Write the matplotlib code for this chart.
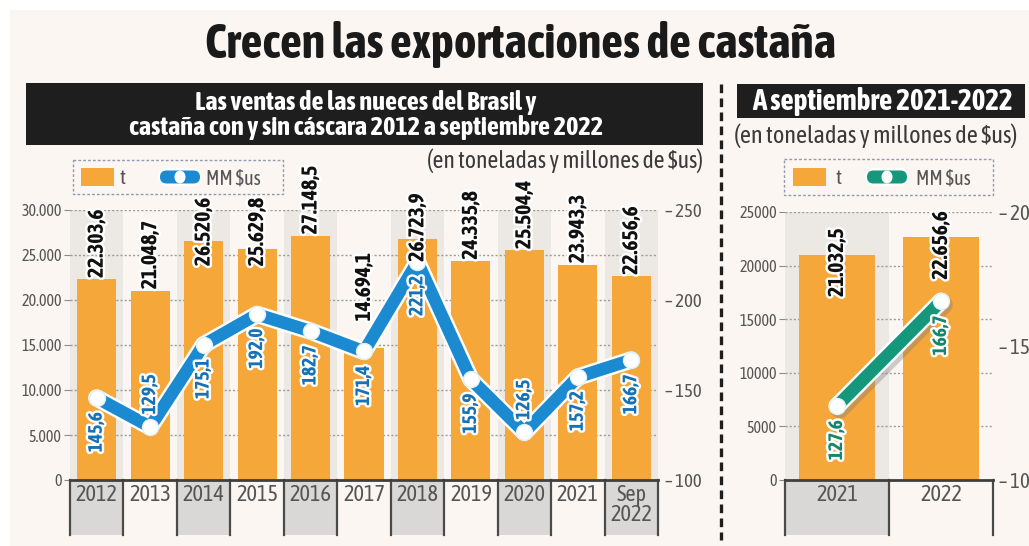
import matplotlib
matplotlib.use("Agg")
import matplotlib.pyplot as plt
import matplotlib.patheffects as pe
from matplotlib.patches import Rectangle, FancyBboxPatch, Ellipse
from matplotlib.lines import Line2D
from matplotlib.transforms import Affine2D

# ---------------- data ----------------
years = ["2012", "2013", "2014", "2015", "2016", "2017",
         "2018", "2019", "2020", "2021", "Sep\n2022"]
toneladas = [22303.6, 21048.7, 26520.6, 25629.8, 27148.5, 14694.1,
             26723.9, 24335.8, 25504.4, 23943.3, 22656.6]
millones_sus = [145.6, 129.5, 175.1, 192.0, 182.7, 171.4,
                221.2, 155.9, 126.5, 157.2, 166.7]

periodos = ["2021", "2022"]
toneladas_sep = [21032.5, 22656.6]
millones_sep = [127.6, 166.7]

ticks_t = [0, 5000, 10000, 15000, 20000, 25000, 30000]
ticks_mm = [100, 150, 200, 250]
ticks_t_sep = [0, 5000, 10000, 15000, 20000, 25000]
ticks_mm_sep = [100, 150, 200]

titulo = "Crecen las exportaciones de castaña"
cabecera_izq = "Las ventas de las nueces del Brasil y\ncastaña con y sin cáscara 2012 a septiembre 2022"
cabecera_der = "A septiembre 2021-2022"
unidades = r"(en toneladas y millones de \$us)"

# ---------------- style ----------------
W, H, DPI = 1029, 546, 100
plt.rcParams['font.family'] = ['Asap Condensed', 'DejaVu Sans']

BG = '#FBF6F1'
ORANGE = '#F6A73A'
BLUE = '#1B8AD0'
BLUE_TXT = '#1772B5'
GREEN = '#14977A'
GREEN_TXT = '#12876C'
STRIP = '#ECE8E4'
CELL = '#DAD8D6'
INK = '#4A4A4A'
GREY_TXT = '#555555'

fig = plt.figure(figsize=(W / DPI, H / DPI), dpi=DPI, facecolor='white')
# pixel coordinates measured from the top-left corner
PX = Affine2D().scale(1, -1).translate(0, H)


def px_axes(x0, y0, x1, y1):
    return fig.add_axes([x0 / W, 1 - y1 / H, (x1 - x0) / W, (y1 - y0) / H])


def es(v, dec=1):
    s = f"{v:,.{dec}f}"
    return s.replace(',', '_').replace('.', ',').replace('_', '.')


halo = [pe.withStroke(linewidth=3.5, foreground='white')]

# page background
fig.add_artist(Rectangle((10, 10), W - 10, H - 10, transform=PX,
                         facecolor=BG, edgecolor='none', zorder=-10))

# title
fig.text(520, 45, titulo, transform=PX, ha='center', va='center',
         fontsize=34.5, fontweight='bold', color='#1A1A1A')

# header boxes
fig.add_artist(Rectangle((26, 83), 677, 62, transform=PX,
                         facecolor='#1E1E1E', edgecolor='none'))
fig.text(366, 115, cabecera_izq, transform=PX, ha='center', va='center',
         fontsize=19, fontweight='bold', color='white', linespacing=1.0)
fig.add_artist(Rectangle((737, 84), 288, 34, transform=PX,
                         facecolor='#1E1E1E', edgecolor='none'))
fig.text(882, 101, cabecera_der, transform=PX, ha='center', va='center',
         fontsize=21, fontweight='bold', color='white')

# unit notes
NOTE_SPAN = (428, 703)
fig.text(NOTE_SPAN[1], 161, unidades, transform=PX, ha='right', va='center',
         fontsize=17, color='#3A3A3A')
fig.text(876, 136, unidades, transform=PX, ha='center', va='center',
         fontsize=17.5, color='#3A3A3A')

# dashed separator between the two panels
fig.add_artist(Line2D([721, 721], [84, 540], transform=PX, color='#1E1E1E',
                      lw=2.4, linestyle=(0, (2.6, 1.6))))


def legend_box(x0, y0, x1, y1, patch_x, t_x, pill_x, mm_x, pill_color):
    fig.add_artist(Rectangle((x0, y0), x1 - x0, y1 - y0, transform=PX,
                             facecolor='none', edgecolor='#8F9BB0', lw=1,
                             linestyle=(0, (2, 1.5))))
    cy = (y0 + y1) / 2
    fig.add_artist(Rectangle((patch_x, cy - 9), 33, 18, transform=PX,
                             facecolor=ORANGE, edgecolor='none'))
    fig.text(t_x, cy + 1, "t", transform=PX, ha='left', va='center',
             fontsize=15, color=GREY_TXT)
    fig.add_artist(FancyBboxPatch((pill_x - 2, cy - 9), 44, 18,
                                  boxstyle='round,pad=0,rounding_size=9',
                                  transform=PX, facecolor='white',
                                  edgecolor='none', alpha=0.9))
    fig.add_artist(FancyBboxPatch((pill_x, cy - 6.5), 40, 13,
                                  boxstyle='round,pad=0,rounding_size=6.5',
                                  transform=PX, facecolor=pill_color,
                                  edgecolor='none'))
    fig.add_artist(Ellipse((pill_x + 20, cy), 11, 13, transform=PX,
                           facecolor='white', edgecolor='none'))
    fig.text(mm_x, cy + 1, r"MM \$us", transform=PX, ha='left', va='center',
             fontsize=14.5, color=GREY_TXT)


LEGEND_LEFT = (73, 160, 283, 194)
legend_box(*LEGEND_LEFT, 81, 120, 160, 206, BLUE)
legend_box(784, 159, 993, 195, 793, 836, 867, 916, GREEN)


def columns(ax, n, depth_frac):
    tr = ax.get_xaxis_transform()
    for i in range(n):
        if i % 2 == 0:
            ax.add_patch(Rectangle((i - 0.5, 0), 1, 1, transform=tr,
                                   facecolor=STRIP, edgecolor='none', zorder=0))
            ax.add_patch(Rectangle((i - 0.5, -depth_frac), 1, depth_frac,
                                   transform=tr, facecolor=CELL,
                                   edgecolor='none', zorder=0, clip_on=False))
    for b in range(n + 1):
        ax.add_line(Line2D([b - 0.5, b - 0.5], [0, -depth_frac], transform=tr,
                           color=INK, lw=1.6, clip_on=False, zorder=1))


def style_axes(ax, ax2, n, t_ticks, t_labels, mm_ticks, right_pad, right_size):
    ax.patch.set_visible(False)
    ax.set_xlim(-0.5, n - 0.5)
    ax.set_yticks(t_ticks)
    ax.set_yticklabels(t_labels)
    ax.set_axisbelow(True)
    ax.grid(axis='y', color='#9C9C9C', lw=1, linestyle=(0, (1.5, 1.5)))
    for s in ['top', 'right', 'left']:
        ax.spines[s].set_visible(False)
    ax.spines['bottom'].set_color('#3F3F3F')
    ax.spines['bottom'].set_linewidth(2)
    ax.tick_params(axis='y', length=4, color='#8A8A8A', labelsize=11.5,
                   labelcolor=GREY_TXT, pad=2)
    ax.tick_params(axis='x', length=0, labelsize=16, labelcolor=GREY_TXT, pad=3)
    for lab in ax.get_xticklabels():
        lab.set_linespacing(0.9)
    for s in ax2.spines.values():
        s.set_visible(False)
    ax2.set_yticks(mm_ticks)
    ax2.set_yticklabels([f"\u2013 {v}" for v in mm_ticks])
    ax2.tick_params(axis='y', length=0, labelsize=right_size,
                    labelcolor=GREY_TXT, pad=right_pad)


def draw_line(ax2, x, vals, color, txt_color, shadow=False):
    effects = []
    if shadow:
        effects.append(pe.SimpleLineShadow(offset=(2, -2.5), shadow_color='#777777',
                                           alpha=0.35, linewidth=13))
    effects += [pe.Stroke(linewidth=12.5, foreground='white'), pe.Normal()]
    ax2.plot(x, vals, color=color, lw=9, solid_joinstyle='round',
             solid_capstyle='round', path_effects=effects, zorder=3)
    ax2.plot(x, vals, 'o', ms=11.5, mfc='white', mec='#DDEFF8', mew=1, zorder=4)
    lo = ax2.get_ylim()[0]
    for i, v in enumerate(vals):
        # value labels hang under the point unless the axis floor is too close
        room = ax2.transData.transform((0, v))[1] - ax2.transData.transform((0, lo))[1]
        above = room < 65
        ax2.annotate(es(v), (x[i], v), xytext=(0, 9 if above else -10),
                     textcoords='offset points', rotation=90, ha='center',
                     va='bottom' if above else 'top', fontsize=14,
                     fontweight='bold', color=txt_color, path_effects=halo,
                     zorder=6)


# ---------------- left panel: 2012 - Sep 2022 ----------------
ax = px_axes(70, 210, 658, 480)
ax2 = ax.twinx()
n = len(years)
xs = list(range(n))
ax.set_ylim(0, 30000)
ax2.set_ylim(100, 250)
columns(ax, n, 55 / 270)
ax.bar(xs, toneladas, width=0.73, color=ORANGE, zorder=2)
ax.set_xticks(xs)
ax.set_xticklabels(years)
style_axes(ax, ax2, n, ticks_t, [es(v, 0) for v in ticks_t], ticks_mm, 5, 13.5)
draw_line(ax2, xs, millones_sus, BLUE, BLUE_TXT)

# tonnage labels sit on the bar tops; two are shifted clear of the line,
# and any label reaching the legend or the unit note is pushed down below it
nudge = {5: 18, 6: -17}
renderer = fig.canvas.get_renderer()
for i, v in enumerate(toneladas):
    ann = ax2.annotate(es(v), xy=(i, v), xycoords=ax.transData,
                       xytext=(0, 1 + nudge.get(i, 0)), textcoords='offset points',
                       rotation=90, ha='center', va='bottom', fontsize=15.5,
                       fontweight='bold', color='#111111', path_effects=halo,
                       zorder=5)
    cx = ax.transData.transform((i, 0))[0]
    if LEGEND_LEFT[0] <= cx <= LEGEND_LEFT[2]:
        ceiling = LEGEND_LEFT[3] + 4
    elif NOTE_SPAN[0] <= cx <= NOTE_SPAN[1]:
        ceiling = 180
    else:
        continue
    top = H - ann.get_window_extent(renderer).y1
    if top < ceiling:
        dx, dy = ann.xyann
        ann.xyann = (dx, dy - (ceiling - top) * 72 / DPI)

# ---------------- right panel: Jan-Sep 2021 vs 2022 ----------------
bx = px_axes(785, 212, 993, 480)
bx2 = bx.twinx()
m = len(periodos)
xs2 = list(range(m))
bx.set_ylim(0, 25000)
bx2.set_ylim(100, 200)
columns(bx, m, 55 / 268)
bx.bar(xs2, toneladas_sep, width=0.74, color=ORANGE, zorder=2)
bx.set_xticks(xs2)
bx.set_xticklabels(periodos)
style_axes(bx, bx2, m, ticks_t_sep, [str(v) for v in ticks_t_sep], ticks_mm_sep, 4, 15)
draw_line(bx2, xs2, millones_sep, GREEN, GREEN_TXT, shadow=True)

for i, v in enumerate(toneladas_sep):
    bx2.annotate(es(v), xy=(i, v), xycoords=bx.transData,
                 xytext=(0, -6), textcoords='offset points', rotation=90,
                 ha='center', va='center', fontsize=15.5, fontweight='bold',
                 color='#111111', path_effects=halo, zorder=5)

fig.savefig("out.png", dpi=DPI, facecolor=fig.get_facecolor())
